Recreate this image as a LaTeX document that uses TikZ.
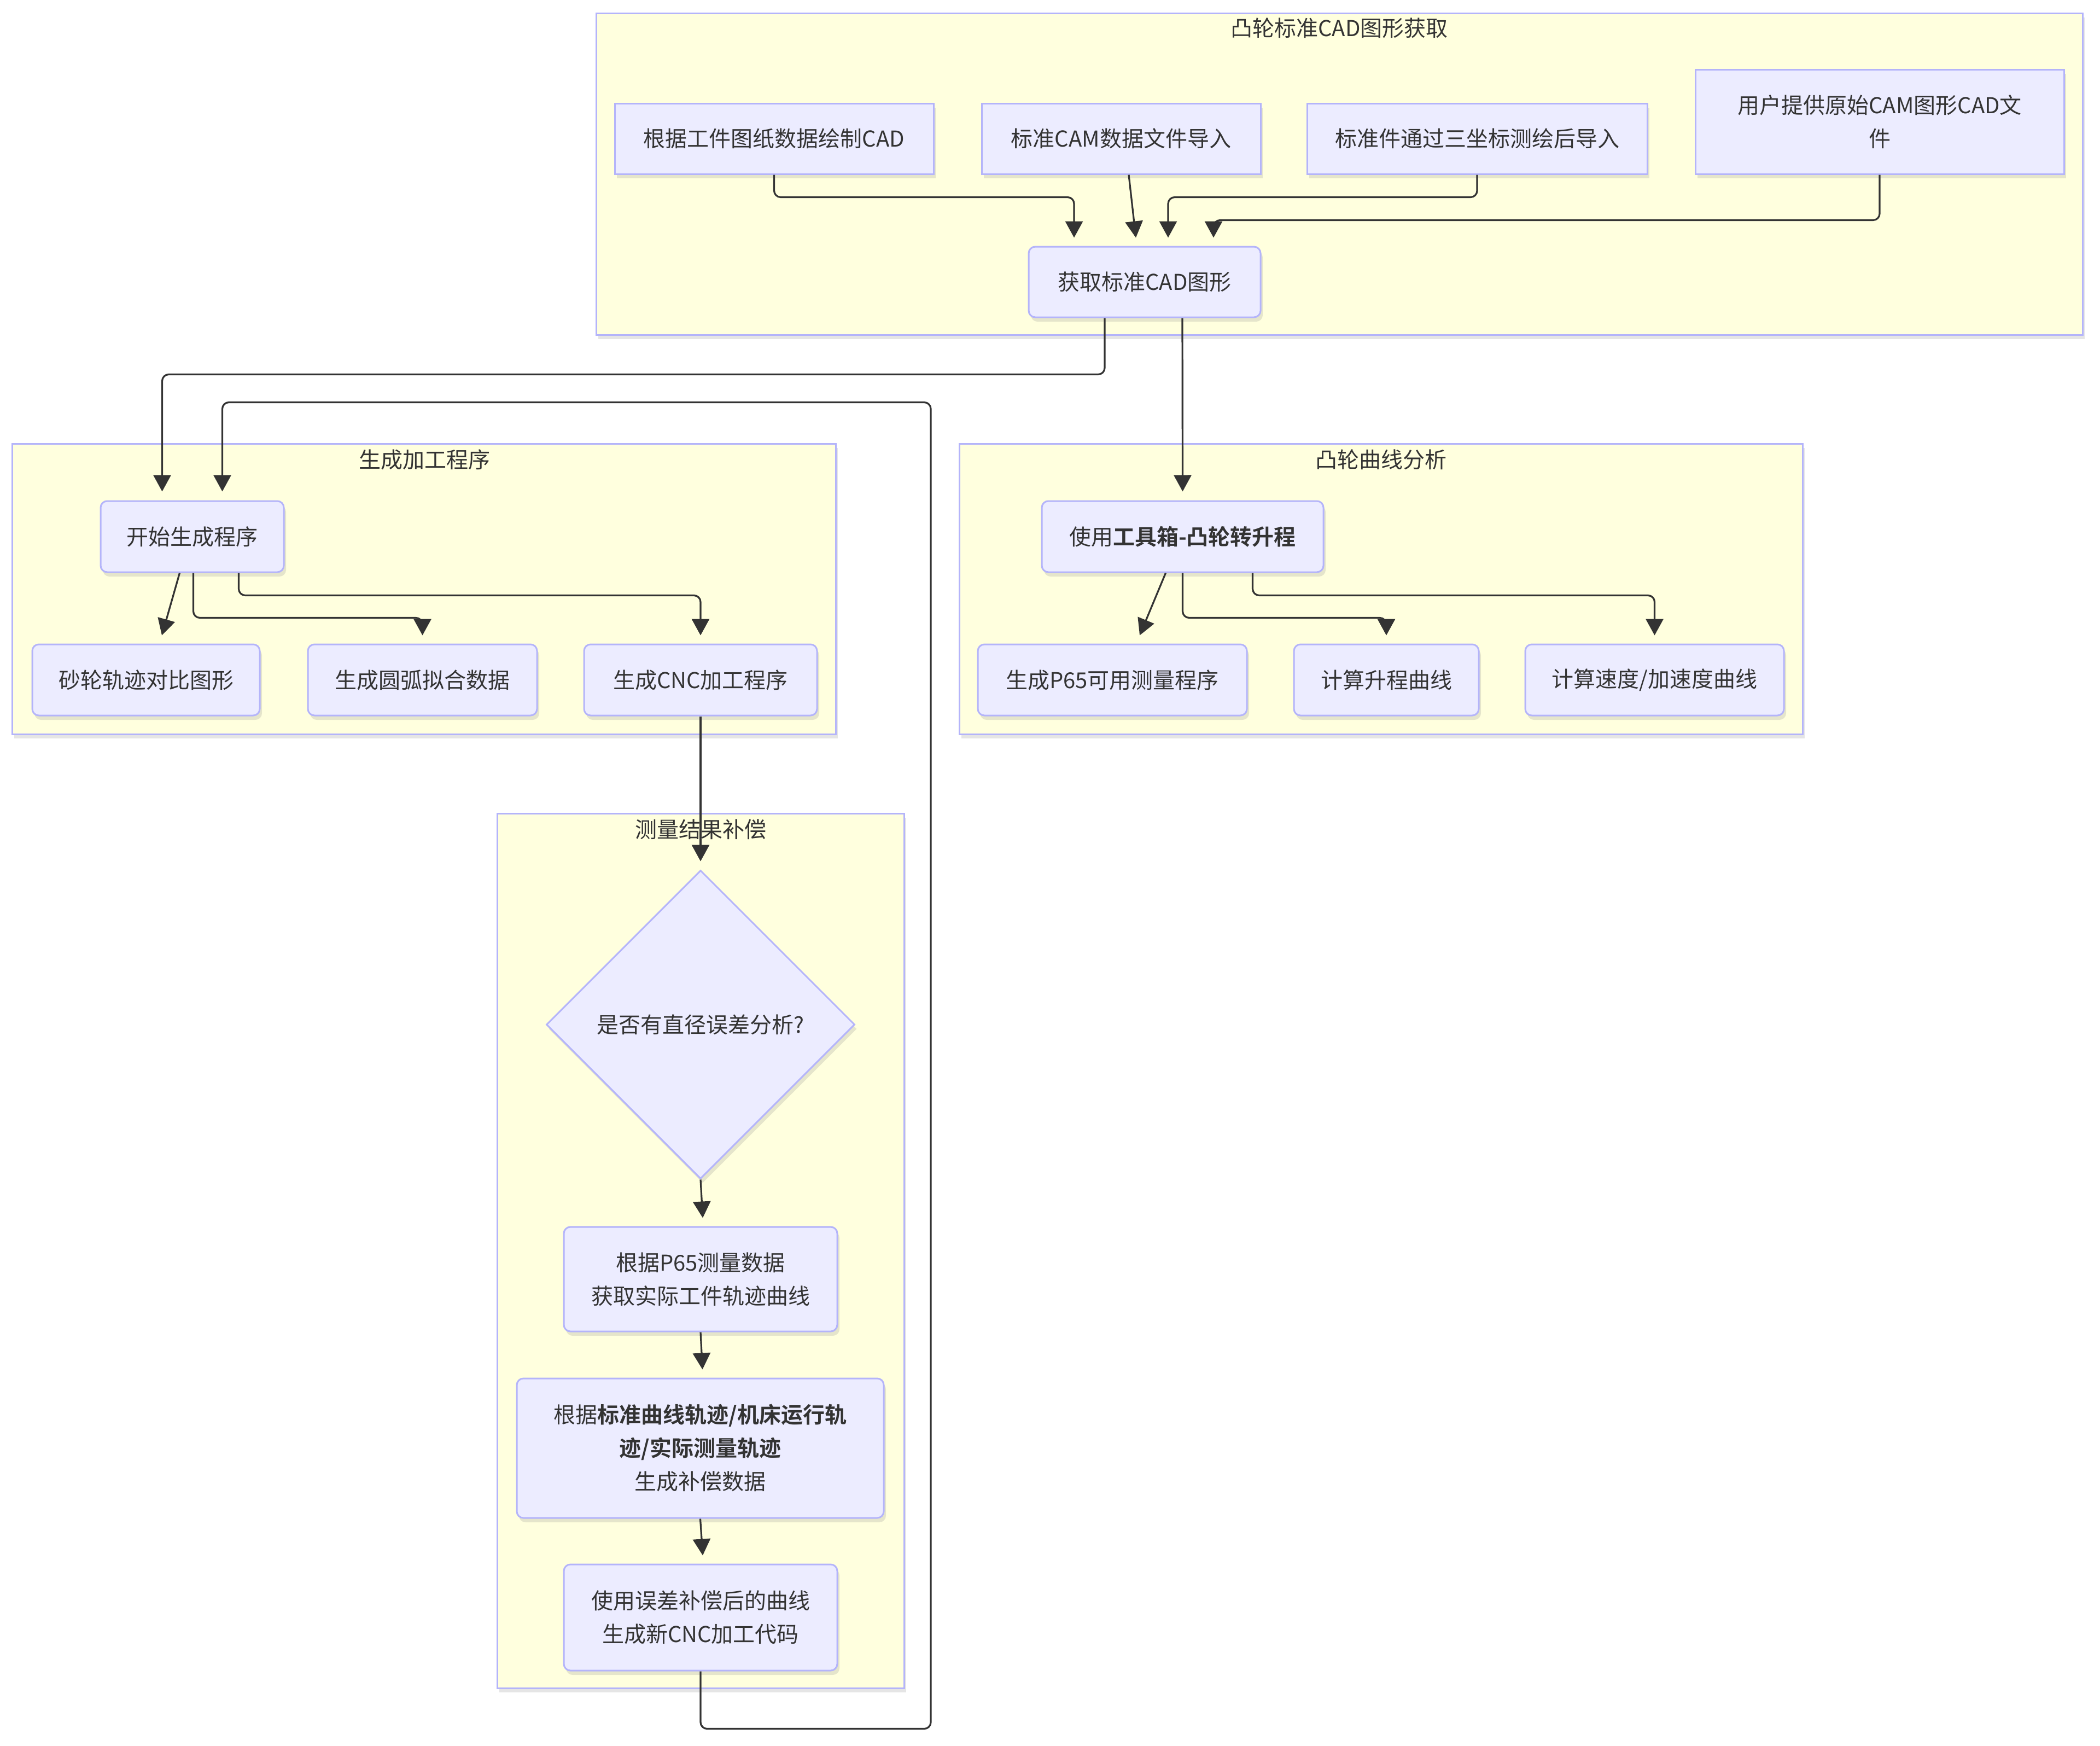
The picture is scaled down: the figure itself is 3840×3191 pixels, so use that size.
\documentclass[tikz,border=0pt]{standalone}
\usepackage{fontspec}
\setmainfont{Noto Sans CJK SC}[BoldFont={Noto Sans CJK SC Bold}]
\usetikzlibrary{arrows.meta,shapes.geometric,shadows,calc}
\definecolor{clfill}{HTML}{FFFFDE}
\definecolor{bord}{HTML}{B4B4FA}
\definecolor{nfill}{HTML}{ECECFF}
\definecolor{ink}{HTML}{333333}
\tikzset{
  cluster/.style={draw=bord,fill=clfill,line width=3pt,drop shadow={opacity=0.2,shadow xshift=4pt,shadow yshift=-8pt}},
  cltitle/.style={text=ink,font=\fontsize{40}{48}\selectfont,inner sep=0pt},
  box/.style={draw=bord,fill=nfill,line width=3pt,text=ink,align=center,inner sep=0pt,
    font=\fontsize{40}{61}\selectfont,drop shadow={opacity=0.2,shadow xshift=4pt,shadow yshift=-8pt}},
  rbox/.style={box,rounded corners=12pt},
  decision/.style={box,diamond,aspect=1},
  edge/.style={draw=ink,line width=3.2pt,rounded corners=12pt,-{Triangle[width=32pt,length=30pt]}}
}
\begin{document}
\begin{tikzpicture}[x=1pt,y=-1pt]
\useasboundingbox (0,0) rectangle (3840,3191);
\fill[white] (0,0) rectangle (3840,3191);
% clusters
\path[cluster] (1090,24) rectangle (3808,612);
\node[cltitle] (t1) at (2449,51) {凸轮标准CAD图形获取};
\path[cluster] (22,811) rectangle (1528,1342);
\node[cltitle] (t2) at (776,840) {生成加工程序};
\path[cluster] (1754,811) rectangle (3296,1342);
\node[cltitle] (t3) at (2525,840) {凸轮曲线分析};
\path[cluster] (909,1487) rectangle (1653,3086);
\node[cltitle] (t4) at (1281,1516) {测量结果补偿};
% nodes top
\node[box,minimum width=583pt,minimum height=129pt] (A1) at (1415.5,253.5) {根据工件图纸数据绘制CAD};
\node[box,minimum width=510pt,minimum height=129pt] (A2) at (2050,253.5) {标准CAM数据文件导入};
\node[box,minimum width=622pt,minimum height=129pt] (A3) at (2701,253.5) {标准件通过三坐标测绘后导入};
\node[box,minimum width=674pt,minimum height=191pt] (A4) at (3437,222.5) {用户提供原始CAM图形CAD文\\件};
\node[rbox,minimum width=424pt,minimum height=129pt] (B) at (2093,515.5) {获取标准CAD图形};
% cluster 2
\node[rbox,minimum width=335pt,minimum height=130pt] (C) at (351.5,981) {开始生成程序};
\node[rbox,minimum width=416pt,minimum height=130pt] (C1) at (267,1243) {砂轮轨迹对比图形};
\node[rbox,minimum width=419pt,minimum height=130pt] (C2) at (772.5,1243) {生成圆弧拟合数据};
\node[rbox,minimum width=426pt,minimum height=130pt] (C3) at (1281,1243) {生成CNC加工程序};
% cluster 3
\node[rbox,minimum width=515pt,minimum height=130pt] (D) at (2162.5,981) {使用\textbf{工具箱-凸轮转升程}};
\node[rbox,minimum width=492pt,minimum height=130pt] (D1) at (2034,1243) {生成P65可用测量程序};
\node[rbox,minimum width=338pt,minimum height=130pt] (D2) at (2535,1243) {计算升程曲线};
\node[rbox,minimum width=473pt,minimum height=130pt] (D3) at (3025.5,1243) {计算速度/加速度曲线};
% cluster 4
\node[decision,minimum width=564pt,minimum height=564pt] (Q) at (1281,1873) {是否有直径误差分析?};
\node[rbox,minimum width=500pt,minimum height=191pt] (E1) at (1281,2338.5) {根据P65测量数据\\获取实际工件轨迹曲线};
\node[rbox,minimum width=671pt,minimum height=255pt] (E2) at (1280.5,2647.5) {根据\textbf{标准曲线轨迹/机床运行轨}\\\textbf{迹/实际测量轨迹}\\生成补偿数据};
\node[rbox,minimum width=500pt,minimum height=194pt] (E3) at (1281,2957) {使用误差补偿后的曲线\\生成新CNC加工代码};
% edges top
\draw[edge] (A1.south) |- ([xshift=-129pt,yshift=89pt]B.north) -- ([xshift=-129pt,yshift=15pt]B.north);
\draw[edge] ([xshift=14pt]A2.south) -- ([xshift=-16pt,yshift=15pt]B.north);
\draw[edge] (A3.south) |- ([xshift=43pt,yshift=89pt]B.north) -- ([xshift=43pt,yshift=15pt]B.north);
\draw[edge] (A4.south) |- ([xshift=126pt,yshift=47pt]B.north) -- ([xshift=126pt,yshift=15pt]B.north);
% B out
\draw[edge] ([xshift=-73pt]B.south) |- ([xshift=-55pt,yshift=230pt]C.north) -- ([xshift=-55pt,yshift=16pt]C.north);
\draw[edge] ([xshift=69pt]B.south) -- ([yshift=16pt]D.north);
% C out
\draw[edge] ([xshift=-23pt]C.south) -- ([xshift=29pt,yshift=15pt]C1.north);
\draw[edge] ([xshift=2pt]C.south) |- ([yshift=47pt]C2.north) -- ([yshift=15pt]C2.north);
\draw[edge] ([xshift=85pt]C.south) |- ([yshift=88pt]C3.north) -- ([yshift=15pt]C3.north);
% D out
\draw[edge] ([xshift=-31pt]D.south) -- ([xshift=50pt,yshift=15pt]D1.north);
\draw[edge] (D.south) |- ([yshift=47pt]D2.north) -- ([yshift=15pt]D2.north);
\draw[edge] ([xshift=128pt]D.south) |- ([yshift=88pt]D3.north) -- ([yshift=15pt]D3.north);
% chain
\draw[edge] (C3.south) -- ([yshift=15pt]Q.north);
\draw[edge] (Q.south) -- ([xshift=4pt,yshift=15pt]E1.north);
\draw[edge] (E1.south) -- ([xshift=4pt,yshift=15pt]E2.north);
\draw[edge] (E2.south) -- ([xshift=4pt,yshift=15pt]E3.north);
\draw[edge] (E3.south) -- ++(0,105) -- ++(421,0) |- ([xshift=55pt,yshift=179pt]C.north) -- ([xshift=55pt,yshift=16pt]C.north);
\end{tikzpicture}
\end{document}
